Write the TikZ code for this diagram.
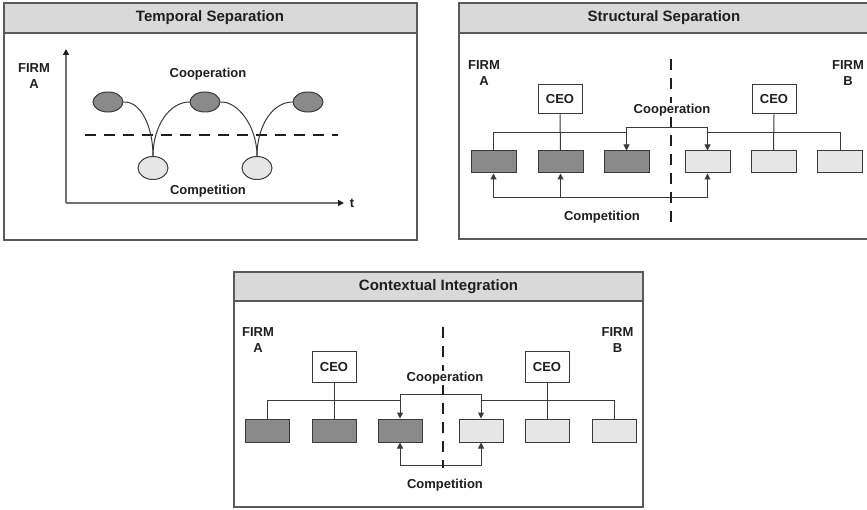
\documentclass[tikz,border=0pt]{standalone}
\usepackage{fontspec}
\setmainfont{Liberation Sans}
\usetikzlibrary{arrows.meta,shapes.geometric}
\definecolor{ink}{HTML}{1F1F1F}
\definecolor{frame}{HTML}{5A5A5A}
\definecolor{headfill}{HTML}{D9D9D9}
\definecolor{darkunit}{HTML}{8A8A8A}
\definecolor{lightunit}{HTML}{E6E6E6}
\definecolor{edge}{HTML}{3A3A3A}
\definecolor{axisgray}{HTML}{707070}
\begin{document}
\begin{tikzpicture}[x=1pt,y=-1pt,
  panel/.style={draw=frame, line width=1.3pt, fill=white},
  header/.style={draw=frame, line width=1.3pt, fill=headfill},
  title/.style={font=\fontsize{15}{18}\selectfont\bfseries, text=ink},
  lbl/.style={font=\fontsize{13}{16}\selectfont\bfseries, text=ink, align=center, inner sep=1pt},
  unitbox/.style={draw=edge, line width=1pt, minimum width=45pt, minimum height=22pt, inner sep=0pt},
  unitA/.style={unitbox, fill=darkunit},
  unitB/.style={unitbox, fill=lightunit},
  ceo/.style={draw=edge, line width=1pt, fill=white, minimum width=44pt, minimum height=29pt, inner sep=0pt, font=\fontsize{13}{16}\selectfont\bfseries, text=ink},
  conn/.style={draw=edge, line width=1pt},
  tip/.style={-{Triangle[length=6pt,width=6pt]}},
  both/.style={{Triangle[length=6pt,width=6pt]}-{Triangle[length=6pt,width=6pt]}},
  axis/.style={draw=axisgray, line width=1.6pt, -{Triangle[length=6pt,width=6pt,color=ink]}},
  divider/.style={draw=ink, line width=2.6pt, dash pattern=on 11pt off 8pt},
  phase/.style={ellipse, draw=edge, line width=1pt, inner sep=0pt, minimum width=30pt},
  phaseD/.style={phase, fill=darkunit, minimum height=20pt},
  phaseL/.style={phase, fill=lightunit, minimum height=23pt}
]
\useasboundingbox (0,0) rectangle (867,510);
\clip (0,0) rectangle (867,510);

% ---------------- Temporal separation ----------------
\draw[panel] (4,3) rectangle (417,240);
\draw[header] (4,3) rectangle (417,33);
\node[title] (t1) at (210,18) {Temporal Separation};

\coordinate (o) at (66,203);
\coordinate (ytop) at (66,49);
\coordinate (xend) at (344,203);
\draw[axis] (o) -- (ytop);
\draw[axis] (o) -- (xend);
\node[lbl] (tlab) at (352,203) {t};
\node[lbl] (firmT) at (34,76.5) {FIRM\\A};

\coordinate (h1) at (85,135);
\coordinate (h2) at (338,135);
\draw[divider] (h1) -- (h2);

\node[lbl] (coopT) at (208,74) {Cooperation};
\node[lbl] (compT) at (208,191) {Competition};

\node[phaseD] (d1) at (108,102) {};
\node[phaseD] (d2) at (205,102) {};
\node[phaseD] (d3) at (308,102) {};
\node[phaseL] (l1) at (153,168) {};
\node[phaseL] (l2) at (257,168) {};

\draw[conn] (d1.east) .. controls +(17,-1) and +(0,-30) .. (l1.north);
\draw[conn] (l1.north) .. controls +(0,-30) and +(-20,0) .. (d2.west);
\draw[conn] (d2.east) .. controls +(17,-1) and +(0,-30) .. (l2.north);
\draw[conn] (l2.north) .. controls +(0,-30) and +(-20,0) .. (d3.west);

% ---------------- Structural separation ----------------
\draw[panel] (459,3) rectangle (872,239);
\draw[header] (459,3) rectangle (872,33);
\node[title] (t2) at (664,18) {Structural Separation};

\node[lbl] (sfa) at (484,73) {FIRM\\A};
\node[lbl] (sfb) at (848,73) {FIRM\\B};

\node[ceo] (sa) at (560,99.5) {CEO};
\node[ceo] (sb) at (774,99.5) {CEO};

\node[unitA] (s1) at (493.5,162) {};
\node[unitA] (s2) at (560.5,162) {};
\node[unitA] (s3) at (626.5,162) {};
\node[unitB] (s4) at (707.5,162) {};
\node[unitB] (s5) at (773.5,162) {};
\node[unitB] (s6) at (840,162) {};

\coordinate (sbusA) at (626.5,133);
\coordinate (sbusB) at (707.5,133);
\coordinate (scomp) at (560.5,197);
\draw[conn] (s1.north) |- (sbusA);
\draw[conn] (s6.north) |- (sbusB);
\draw[conn] (sa.south) -- (s2.north);
\draw[conn] (sb.south) -- (s5.north);
\draw[conn, both] (s3.north) -- ++(0,-23) -| (s4.north);
\draw[conn, both] (s1.south) -- ++(0,24) -| (s4.south);
\draw[conn, tip] (scomp) -- (s2.south);

\coordinate (sv1) at (671,59);
\coordinate (sv2) at (671,222);
\draw[divider] (sv1) -- (sv2);
\node[lbl, fill=white] (coopS) at (672,110) {Cooperation};
\node[lbl] (compS) at (602,217) {Competition};

% ---------------- Contextual integration ----------------
\draw[panel] (234,272) rectangle (643,507);
\draw[header] (234,272) rectangle (643,301);
\node[title] (t3) at (438.5,287) {Contextual Integration};

\node[lbl] (cfa) at (258,340.5) {FIRM\\A};
\node[lbl] (cfb) at (617.5,340.5) {FIRM\\B};

\node[ceo, minimum height=30pt] (ca) at (334,367) {CEO};
\node[ceo, minimum height=30pt] (cb) at (547,367) {CEO};

\node[unitA, minimum width=44pt, minimum height=23pt] (c1) at (267,430.5) {};
\node[unitA, minimum width=44pt, minimum height=23pt] (c2) at (334,430.5) {};
\node[unitA, minimum width=44pt, minimum height=23pt] (c3) at (400,430.5) {};
\node[unitB, minimum width=44pt, minimum height=23pt] (c4) at (481,430.5) {};
\node[unitB, minimum width=44pt, minimum height=23pt] (c5) at (547,430.5) {};
\node[unitB, minimum width=44pt, minimum height=23pt] (c6) at (614,430.5) {};

\coordinate (cbusA) at (400,400);
\coordinate (cbusB) at (481,400);
\draw[conn] (c1.north) |- (cbusA);
\draw[conn] (c6.north) |- (cbusB);
\draw[conn] (ca.south) -- (c2.north);
\draw[conn] (cb.south) -- (c5.north);
\draw[conn, both] (c3.north) -- ++(0,-24) -| (c4.north);
\draw[conn, both] (c3.south) -- ++(0,23) -| (c4.south);

\coordinate (cv1) at (443,327);
\coordinate (cv2) at (443,468);
\draw[divider] (cv1) -- (cv2);
\node[lbl, fill=white] (coopC) at (445,378) {Cooperation};
\node[lbl] (compC) at (445,485) {Competition};
\end{tikzpicture}
\end{document}
